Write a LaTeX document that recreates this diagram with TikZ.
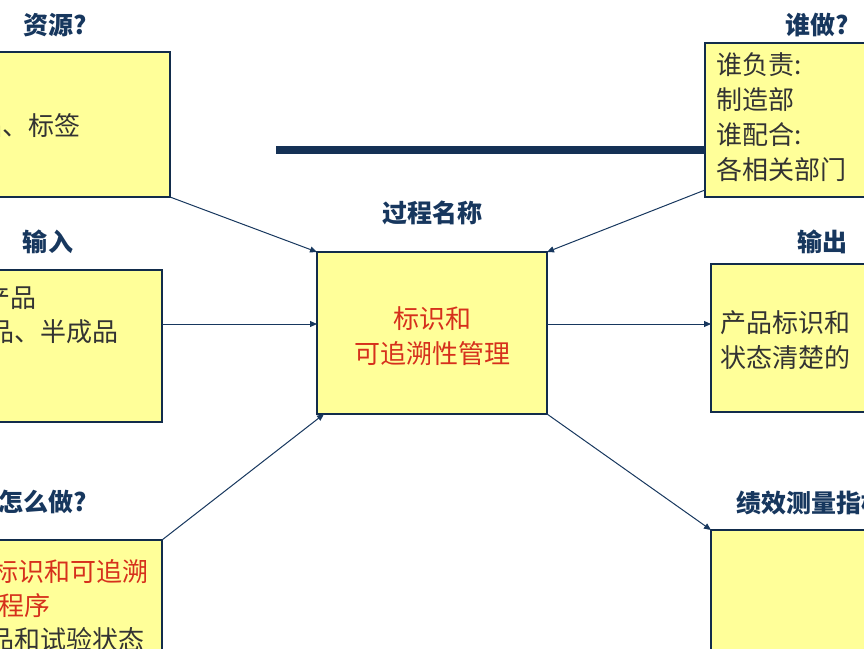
\documentclass[tikz,border=0pt]{standalone}
\usepackage{fontspec}
\setmainfont{Noto Sans CJK SC}
\usetikzlibrary{arrows.meta}
\definecolor{ybox}{HTML}{FFFF99}
\definecolor{navy}{HTML}{17375E}
\definecolor{redt}{HTML}{D6301C}
\tikzset{
 box/.style={draw=navy!80!black,line width=1.6pt,fill=ybox},
 ttl/.style={font=\fontsize{25}{27}\selectfont\bfseries,text=navy},
 body/.style={font=\fontsize{26}{35}\selectfont,text=black!80},
 arr/.style={draw=navy,line width=1pt,-{Triangle[length=7pt,width=6pt]}}
}
\begin{document}
\begin{tikzpicture}[x=1pt,y=-1pt]
\useasboundingbox (0,0) rectangle (864,648);
\clip (0,0) rectangle (864,648);
% boxes
\draw[box] (-10,52) rectangle (170,197);
\draw[box] (705,43) rectangle (880,197);
\draw[box] (317,252) rectangle (547,414);
\draw[box] (-10,270) rectangle (162,422);
\draw[box] (711,264) rectangle (880,412);
\draw[box] (-10,540) rectangle (162,680);
\draw[box] (711,530) rectangle (880,680);
\coordinate (res) at (170,197);
\coordinate (who) at (705,190);
\coordinate (in) at (162,324);
\coordinate (how) at (162,540);
\coordinate (outp) at (711,324);
\coordinate (kpi) at (711,530);
\coordinate (cnw) at (317,252);
\coordinate (cne) at (547,252);
\coordinate (cw) at (317,324);
\coordinate (ce) at (547,324);
\coordinate (csw) at (324,414);
\coordinate (cse) at (547,414);
\draw[navy!90!black,line width=8pt] (276,150) -- (705,150);
% titles
\node[ttl] (t1) at (55,25) {资源?};
\node[ttl] (t2) at (817,25) {谁做?};
\node[ttl] (t3) at (432,213) {过程名称};
\node[ttl] (t4) at (48,242) {输入};
\node[ttl] (t5) at (822,242) {输出};
\node[ttl,anchor=east] (t6) at (90,502) {怎么做?};
\node[ttl,anchor=west] (t7) at (733,503) {绩效测量指标};
% texts
\node[body,anchor=east] (r1) at (84,126) {品、标签};
\node[body,anchor=north west,align=left,inner sep=0pt] (w1) at (716,52) {谁负责:\\制造部\\谁配合:\\各相关部门};
\node[font=\fontsize{26}{35}\selectfont,text=redt,align=center] (c1) at (432,336) {标识和\\可追溯性管理};
\node[body,anchor=east] (i1) at (40,298) {产品};
\node[body,anchor=east] (i2) at (122,332) {成品、半成品};
\node[body,anchor=west,align=left,inner sep=0pt] (o1) at (720,340) {产品标识和\\状态清楚的};
\node[body,anchor=west,text=redt,inner sep=0pt] (h1) at (-8,572) {标识和可追溯};
\node[body,anchor=east,text=redt] (h2) at (54,606) {的程序};
\node[body,anchor=east] (h3) at (148,640) {品和试验状态};
% arrows
\draw[arr] (res) -- (cnw);
\draw[arr] (who) -- (cne);
\draw[arr] (in) -- (cw);
\draw[arr] (ce) -- (outp);
\draw[arr] (how) -- (csw);
\draw[arr] (cse) -- (kpi);
\end{tikzpicture}
\end{document}
